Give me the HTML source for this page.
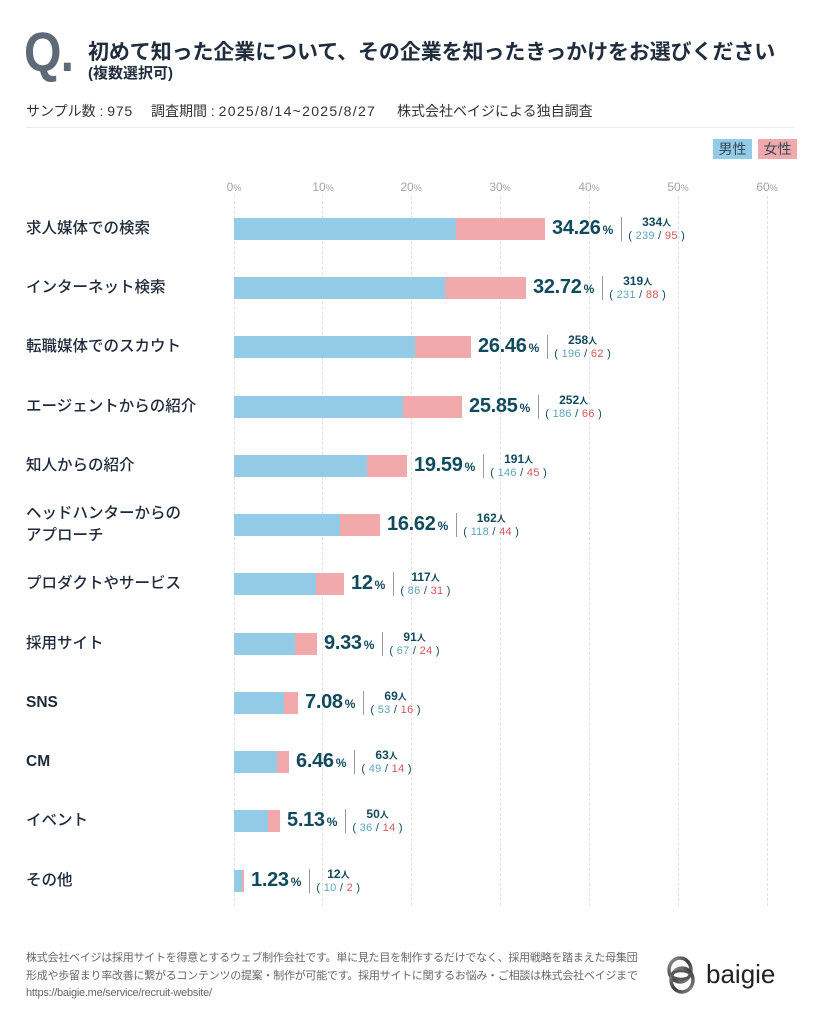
<!DOCTYPE html>
<html lang="ja">
<head>
<meta charset="utf-8">
<style>
  html,body{margin:0;padding:0;background:#fff;}
  body{width:820px;height:1024px;position:relative;overflow:hidden;
       font-family:"Liberation Sans","Noto Sans CJK JP",sans-serif;color:#1e2b3c;}
  .abs{position:absolute;}
  .q{left:24px;top:22px;font-size:56px;font-weight:bold;color:#5e6a77;line-height:60px;
     transform:scaleX(0.86);transform-origin:left top;letter-spacing:-1px;}
  .title{left:88px;top:39px;font-size:21px;font-weight:bold;color:#1f2d3d;line-height:28px;white-space:nowrap;letter-spacing:-0.1px;}
  .sub{left:88px;top:64px;font-size:15px;font-weight:bold;color:#1f2d3d;line-height:20px;}
  .meta{top:101px;font-size:14px;color:#333;line-height:20px;white-space:nowrap;}
  .rule{left:26px;top:127px;width:768px;height:1px;background:#ececec;}
  .leg{top:139px;height:20px;font-size:14px;line-height:20px;color:#34495a;text-align:center;}
  .ax{top:178px;font-size:12px;color:#a5a5a5;line-height:18px;width:50px;text-align:center;}
  .ax small{font-size:9px;}
  .grid{top:196px;height:710px;width:0;border-left:1px dashed #e0e0e0;}
  .lbl{left:26px;font-size:15.5px;font-weight:500;color:#1e2b3c;line-height:22px;white-space:nowrap;}
  .lbl.lat{font-weight:bold;}
  .bar{height:22px;}
  .m{background:#94cbe6;}
  .f{background:#f1a9ab;}
  .val{height:26px;display:flex;align-items:center;white-space:nowrap;}
  .pct{font-size:20px;font-weight:bold;color:#104a5d;letter-spacing:-0.3px;line-height:26px;}
  .pct small{font-size:12px;margin-left:2px;letter-spacing:0;}
  .sep{width:1px;height:24px;background:#9a9a9a;margin-left:8px;}
  .cnt{margin-left:6px;display:flex;flex-direction:column;align-items:center;line-height:13px;}
  .cnt .n{font-size:12px;font-weight:bold;color:#104a5d;}
  .cnt .n small{font-size:9px;}
  .cnt .p{font-size:11px;color:#104a5d;letter-spacing:0.3px;}
  .cnt .b{color:#5aa4bf;}
  .cnt .r{color:#d8545a;}
  .foot{left:26px;top:950px;font-size:11px;color:#666;line-height:17.5px;white-space:nowrap;letter-spacing:-0.25px;}
  .logo{left:706px;top:958px;font-size:26px;color:#222;line-height:32px;}
</style>
</head>
<body>

<div class="abs q">Q.</div>
<div class="abs title">初めて知った企業について、その企業を知ったきっかけをお選びください</div>
<div class="abs sub">(複数選択可)</div>

<div class="abs meta" style="left:26px;">サンプル数 : <span style="letter-spacing:0.8px;">975</span></div>
<div class="abs meta" style="left:151px;">調査期間 : <span style="letter-spacing:1.3px;">2025/8/14~2025/8/27</span></div>
<div class="abs meta" style="left:397px;">株式会社ベイジによる独自調査</div>
<div class="abs rule"></div>

<div class="abs leg m" style="left:713px;width:39px;">男性</div>
<div class="abs leg f" style="left:758px;width:39px;">女性</div>

<!-- axis -->
<div class="abs ax" style="left:209px;">0<small>%</small></div>
<div class="abs ax" style="left:298px;">10<small>%</small></div>
<div class="abs ax" style="left:386px;">20<small>%</small></div>
<div class="abs ax" style="left:475px;">30<small>%</small></div>
<div class="abs ax" style="left:564px;">40<small>%</small></div>
<div class="abs ax" style="left:653px;">50<small>%</small></div>
<div class="abs ax" style="left:742px;">60<small>%</small></div>

<div class="abs grid" style="left:234px;"></div>
<div class="abs grid" style="left:322px;"></div>
<div class="abs grid" style="left:411px;"></div>
<div class="abs grid" style="left:500px;"></div>
<div class="abs grid" style="left:589px;"></div>
<div class="abs grid" style="left:678px;"></div>
<div class="abs grid" style="left:767px;"></div>

<!-- Row 1 center 229 -->
<div class="abs lbl" style="top:218px;">求人媒体での検索</div>
<div class="abs bar m" style="left:234px;top:218px;width:222px;"></div>
<div class="abs bar f" style="left:456px;top:218px;width:89px;"></div>
<div class="abs val" style="left:552px;top:216px;"><span class="pct">34.26<small>%</small></span><span class="sep"></span><span class="cnt"><span class="n">334<small>人</small></span><span class="p">( <span class="b">239</span> / <span class="r">95</span> )</span></span></div>

<!-- Row 2 center 288 -->
<div class="abs lbl" style="top:277px;">インターネット検索</div>
<div class="abs bar m" style="left:234px;top:277px;width:211px;"></div>
<div class="abs bar f" style="left:445px;top:277px;width:81px;"></div>
<div class="abs val" style="left:533px;top:275px;"><span class="pct">32.72<small>%</small></span><span class="sep"></span><span class="cnt"><span class="n">319<small>人</small></span><span class="p">( <span class="b">231</span> / <span class="r">88</span> )</span></span></div>

<!-- Row 3 center 347 -->
<div class="abs lbl" style="top:336px;">転職媒体でのスカウト</div>
<div class="abs bar m" style="left:234px;top:336px;width:181px;"></div>
<div class="abs bar f" style="left:415px;top:336px;width:56px;"></div>
<div class="abs val" style="left:478px;top:334px;"><span class="pct">26.46<small>%</small></span><span class="sep"></span><span class="cnt"><span class="n">258<small>人</small></span><span class="p">( <span class="b">196</span> / <span class="r">62</span> )</span></span></div>

<!-- Row 4 center 407 -->
<div class="abs lbl" style="top:396px;">エージェントからの紹介</div>
<div class="abs bar m" style="left:234px;top:396px;width:169px;"></div>
<div class="abs bar f" style="left:403px;top:396px;width:59px;"></div>
<div class="abs val" style="left:469px;top:394px;"><span class="pct">25.85<small>%</small></span><span class="sep"></span><span class="cnt"><span class="n">252<small>人</small></span><span class="p">( <span class="b">186</span> / <span class="r">66</span> )</span></span></div>

<!-- Row 5 center 466 -->
<div class="abs lbl" style="top:455px;">知人からの紹介</div>
<div class="abs bar m" style="left:234px;top:455px;width:133px;"></div>
<div class="abs bar f" style="left:367px;top:455px;width:40px;"></div>
<div class="abs val" style="left:414px;top:453px;"><span class="pct">19.59<small>%</small></span><span class="sep"></span><span class="cnt"><span class="n">191<small>人</small></span><span class="p">( <span class="b">146</span> / <span class="r">45</span> )</span></span></div>

<!-- Row 6 center 525 -->
<div class="abs lbl" style="top:503px;">ヘッドハンターからの<br>アプローチ</div>
<div class="abs bar m" style="left:234px;top:514px;width:106px;"></div>
<div class="abs bar f" style="left:340px;top:514px;width:40px;"></div>
<div class="abs val" style="left:387px;top:512px;"><span class="pct">16.62<small>%</small></span><span class="sep"></span><span class="cnt"><span class="n">162<small>人</small></span><span class="p">( <span class="b">118</span> / <span class="r">44</span> )</span></span></div>

<!-- Row 7 center 584 -->
<div class="abs lbl" style="top:573px;">プロダクトやサービス</div>
<div class="abs bar m" style="left:234px;top:573px;width:82px;"></div>
<div class="abs bar f" style="left:316px;top:573px;width:28px;"></div>
<div class="abs val" style="left:351px;top:571px;"><span class="pct">12<small>%</small></span><span class="sep"></span><span class="cnt"><span class="n">117<small>人</small></span><span class="p">( <span class="b">86</span> / <span class="r">31</span> )</span></span></div>

<!-- Row 8 center 644 -->
<div class="abs lbl" style="top:633px;">採用サイト</div>
<div class="abs bar m" style="left:234px;top:633px;width:61px;"></div>
<div class="abs bar f" style="left:295px;top:633px;width:22px;"></div>
<div class="abs val" style="left:324px;top:631px;"><span class="pct">9.33<small>%</small></span><span class="sep"></span><span class="cnt"><span class="n">91<small>人</small></span><span class="p">( <span class="b">67</span> / <span class="r">24</span> )</span></span></div>

<!-- Row 9 center 703 -->
<div class="abs lbl lat" style="top:692px;">SNS</div>
<div class="abs bar m" style="left:234px;top:692px;width:50px;"></div>
<div class="abs bar f" style="left:284px;top:692px;width:14px;"></div>
<div class="abs val" style="left:305px;top:690px;"><span class="pct">7.08<small>%</small></span><span class="sep"></span><span class="cnt"><span class="n">69<small>人</small></span><span class="p">( <span class="b">53</span> / <span class="r">16</span> )</span></span></div>

<!-- Row 10 center 762 -->
<div class="abs lbl lat" style="top:751px;">CM</div>
<div class="abs bar m" style="left:234px;top:751px;width:43px;"></div>
<div class="abs bar f" style="left:277px;top:751px;width:12px;"></div>
<div class="abs val" style="left:296px;top:749px;"><span class="pct">6.46<small>%</small></span><span class="sep"></span><span class="cnt"><span class="n">63<small>人</small></span><span class="p">( <span class="b">49</span> / <span class="r">14</span> )</span></span></div>

<!-- Row 11 center 821 -->
<div class="abs lbl" style="top:810px;">イベント</div>
<div class="abs bar m" style="left:234px;top:810px;width:34px;"></div>
<div class="abs bar f" style="left:268px;top:810px;width:12px;"></div>
<div class="abs val" style="left:287px;top:808px;"><span class="pct">5.13<small>%</small></span><span class="sep"></span><span class="cnt"><span class="n">50<small>人</small></span><span class="p">( <span class="b">36</span> / <span class="r">14</span> )</span></span></div>

<!-- Row 12 center 881 -->
<div class="abs lbl" style="top:870px;">その他</div>
<div class="abs bar m" style="left:234px;top:870px;width:8px;"></div>
<div class="abs bar f" style="left:242px;top:870px;width:2px;"></div>
<div class="abs val" style="left:251px;top:868px;"><span class="pct">1.23<small>%</small></span><span class="sep"></span><span class="cnt"><span class="n">12<small>人</small></span><span class="p">( <span class="b">10</span> / <span class="r">2</span> )</span></span></div>

<!-- footer -->
<div class="abs foot">株式会社ベイジは採用サイトを得意とするウェブ制作会社です。単に見た目を制作するだけでなく、採用戦略を踏まえた母集団<br>形成や歩留まり率改善に繋がるコンテンツの提案・制作が可能です。採用サイトに関するお悩み・ご相談は株式会社ベイジまで<br>https://baigie.me/service/recruit-website/</div>

<svg class="abs" style="left:664px;top:954px;" width="36" height="42" viewBox="0 0 36 42">
  <defs>
    <linearGradient id="g1" x1="0" y1="0" x2="1" y2="1">
      <stop offset="0" stop-color="#9a9a9a"/>
      <stop offset="0.5" stop-color="#3a3a3a"/>
      <stop offset="1" stop-color="#8a8a8a"/>
    </linearGradient>
  </defs>
  <ellipse cx="16" cy="16" rx="11" ry="12" fill="none" stroke="url(#g1)" stroke-width="3.5"/>
  <ellipse cx="18" cy="26" rx="11" ry="12" fill="none" stroke="url(#g1)" stroke-width="3.5"/>
  <ellipse cx="17" cy="21" rx="9" ry="4" fill="none" stroke="#555" stroke-width="2.5"/>
</svg>
<div class="abs logo">baigie</div>

</body>
</html>
